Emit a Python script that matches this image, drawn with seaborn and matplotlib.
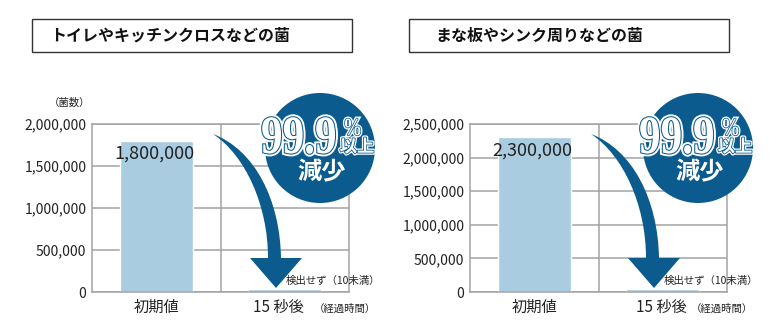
import numpy as np
import pandas as pd
import matplotlib
matplotlib.use('Agg')
import matplotlib.pyplot as plt
import seaborn as sns
from matplotlib.patches import Rectangle, Circle, PathPatch
from matplotlib.path import Path
from matplotlib.textpath import TextPath
from matplotlib.font_manager import FontProperties
import matplotlib.patheffects as pe
from matplotlib.ticker import FuncFormatter, MultipleLocator
from matplotlib.transforms import Affine2D, ScaledTranslation

# ---------------- data ----------------
titles = ["トイレやキッチンクロスなどの菌", "まな板やシンク周りなどの菌"]
categories = ["初期値", "15 秒後"]
values_left = [1800000, 35000]
values_right = [2300000, 45000]
value_labels = ["1,800,000", "2,300,000"]
ymax = [2000000, 2500000]
ystep = 500000
note = "検出せず（10未満）"
unit_y = "（菌数）"
unit_x = "（経過時間）"
badge_big = "99.9"
badge_pct = "%"
badge_up = "以上"
badge_down = "減少"

# ---------------- style ----------------
sns.set_theme(style="white")
plt.rcParams['font.family'] = ['Noto Sans CJK JP', 'DejaVu Sans']

BAR = '#A9CCE1'
BLUE = '#0B5B8E'
GRID = '#A3A3A3'
TXT = '#222222'

W, H = 780, 336
fig = plt.figure(figsize=(W / 100, H / 100), dpi=100)
fig.patch.set_facecolor('white')

panels = [
    dict(vals=values_left, ymax=ymax[0], left=92, dx=0, xshift=-6),
    dict(vals=values_right, ymax=ymax[1], left=470, dx=378, xshift=-1),
]

for i, p in enumerate(panels):
    ax = fig.add_axes([p['left'] / W, 1 - 292 / H, 257 / W, 168 / H])
    df = pd.DataFrame({'cat': categories, 'val': p['vals']})
    sns.barplot(data=df, x='cat', y='val', ax=ax, color=BAR, saturation=1,
                width=0.57, errorbar=None)
    ax.set_xlim(-0.5, 1.5)
    ax.set_ylim(0, p['ymax'])
    ax.yaxis.set_major_locator(MultipleLocator(ystep))
    ax.yaxis.set_major_formatter(FuncFormatter(lambda v, pos: f"{int(v):,}"))
    ax.grid(axis='y', color=GRID, lw=1.1)
    ax.set_axisbelow(True)
    ax.axvline(0.5, color=GRID, lw=1.1, zorder=0.5)
    for s in ax.spines.values():
        s.set_visible(True)
        s.set_color(GRID)
        s.set_linewidth(1.1)
    ax.set_xlabel('')
    ax.set_ylabel('')
    ax.tick_params(axis='y', length=0, pad=4, labelsize=10, labelcolor=TXT)
    ax.tick_params(axis='x', length=0, pad=5, labelsize=11, labelcolor=TXT)
    ax.set_facecolor('white')
    lbl = ax.get_xticklabels()[1]
    lbl.set_transform(lbl.get_transform() +
                      ScaledTranslation(p['xshift'] / 100, 0, fig.dpi_scale_trans))
    # value label of first bar
    ax.annotate(value_labels[i], xy=(0, p['vals'][0]), xytext=(-2, -13),
                textcoords='offset pixels', ha='center', va='center',
                fontsize=13, color=TXT)
    # note for second bar
    ax.annotate(note, xy=(1, p['vals'][1]), xytext=(48, 8),
                textcoords='offset pixels', ha='center', va='center',
                fontsize=7.5, color=TXT)

# ---------------- overlay (pixel coordinates) ----------------
ov = fig.add_axes([0, 0, 1, 1], zorder=10)
ov.set_xlim(0, W)
ov.set_ylim(H, 0)
ov.axis('off')
ov.patch.set_alpha(0)


def text_patch(s, x, y, size, sx, family, weight, halo, inner):
    fp = FontProperties(family=family, weight=weight)
    tp = TextPath((0, 0), s, size=size, prop=fp)
    path = Affine2D().scale(sx, -1).translate(x, y).transform_path(tp)
    patch = PathPatch(path, facecolor='white', edgecolor='white', lw=0)
    patch.set_path_effects([pe.Stroke(linewidth=halo, foreground='white'),
                            pe.Stroke(linewidth=inner, foreground=BLUE),
                            pe.Normal()])
    ov.add_patch(patch)


for i, p in enumerate(panels):
    dx = p['dx']
    # title box
    ov.add_patch(Rectangle((32 + dx - (1 if i else 0), 19), 320, 33, fill=False,
                           edgecolor='#333333', lw=1.0))
    ov.text((50 if i == 0 else 435), 35.5, titles[i], ha='left', va='center',
            fontsize=11.5, fontweight='bold', color='#111111')
    # x unit label
    ov.text((314 if i == 0 else 691), 309, unit_x, ha='left', va='center',
            fontsize=7.5, color=TXT)

    # curved arrow
    verts = [(213, 134), (255, 150), (280, 200), (281, 258),
             (302, 258), (276, 288), (250, 258), (268, 258),
             (268, 205), (245, 155), (213, 134), (213, 134)]
    verts = [(x + dx, y) for x, y in verts]
    codes = [Path.MOVETO, Path.CURVE4, Path.CURVE4, Path.CURVE4,
             Path.LINETO, Path.LINETO, Path.LINETO, Path.LINETO,
             Path.CURVE4, Path.CURVE4, Path.CURVE4, Path.CLOSEPOLY]
    ov.add_patch(PathPatch(Path(verts, codes), facecolor=BLUE, edgecolor='none'))

    # badge circle
    ov.add_patch(Circle((320 + dx, 148), 55, facecolor=BLUE, edgecolor='none'))
    text_patch(badge_big, 261 + dx, 153, 54, 0.8, 'Liberation Serif', 'bold', 4.2, 1.5)
    text_patch(badge_pct, 343 + dx, 135, 24.6, 0.78, 'Liberation Serif', 'bold', 3, 1.1)
    ov.text(357 + dx, 147, badge_up, ha='center', va='center', fontsize=12.5,
            fontweight='bold', color='white',
            path_effects=[pe.Stroke(linewidth=3, foreground='white'),
                          pe.Stroke(linewidth=1.2, foreground=BLUE), pe.Normal()])
    ov.text(322 + dx, 172.5, badge_down, ha='center', va='center', fontsize=17.5,
            fontweight='bold', color='white')

# y unit label (left panel only)
ov.text(70, 103, unit_y, ha='center', va='center', fontsize=7.5, color=TXT)

fig.savefig('out.png', dpi=100, facecolor='white')
